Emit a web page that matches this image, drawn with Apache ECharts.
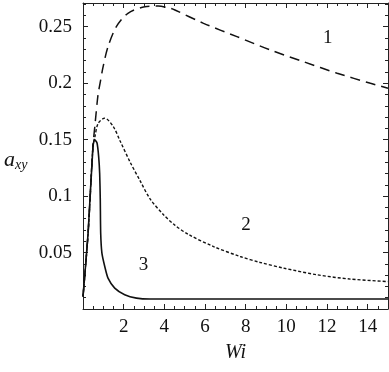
<!DOCTYPE html>
<html>
<head>
<meta charset="utf-8">
<script src="https://cdn.jsdelivr.net/npm/echarts@6/dist/echarts.min.js"></script>
<style>
  html, body { margin: 0; padding: 0; background: #fff; }
  #chart { width: 389px; height: 372px; }
</style>
</head>
<body>
<div id="chart"></div>
<script>
// curve 1 (dashed), curve 2 (dotted), curve 3 (solid) : [Wi, a_xy]
var curve1 = [
  [0, 0.011], [0.25, 0.067], [0.49, 0.144], [0.6, 0.165], [0.74, 0.19], [0.84, 0.2],
  [0.99, 0.2146], [1.23, 0.2323], [1.64, 0.25], [2.21, 0.2619], [3.04, 0.2677],
  [3.69, 0.2683], [4.29, 0.2663], [4.52, 0.2648], [5.93, 0.253], [7.57, 0.2412],
  [9.21, 0.2294], [10.85, 0.219], [12.5, 0.2088], [14.14, 0.1999], [15, 0.1955]
];
var curve2 = [
  [0, 0.011], [0.25, 0.067], [0.49, 0.144], [0.59, 0.153], [0.75, 0.1645],
  [1.07, 0.169], [1.49, 0.1615], [1.82, 0.149], [2.32, 0.13], [2.81, 0.1135],
  [3.3, 0.0975], [3.96, 0.0835], [4.5, 0.0745], [5.19, 0.066], [6.42, 0.0553],
  [7.73, 0.0465], [8.72, 0.0412], [9.87, 0.0362], [11.51, 0.0303], [13.15, 0.0265],
  [15, 0.0243]
];
var curve3 = [
  [0, 0.011], [0.25, 0.067], [0.49, 0.144], [0.57, 0.15], [0.69, 0.147],
  [0.77, 0.135], [0.82, 0.12], [0.85, 0.0966], [0.87, 0.067], [0.93, 0.0494],
  [1.07, 0.0376], [1.23, 0.0273], [1.56, 0.0185], [2.05, 0.0126], [2.63, 0.0096],
  [3.3, 0.0088], [15, 0.0088]
];
var curveNames = ['1', '2', '3'];
var curveNameX = [12.04, 8.02, 2.97];
var curveNameY = [0.2397, 0.0745, 0.0387];

var serif = '"Liberation Serif", "DejaVu Serif", serif';

var chart = echarts.init(document.getElementById('chart'));

function frameAxis(pos, showLabel) {
  return {
    position: pos,
    axisLine: { show: true, onZero: false, lineStyle: { color: '#222', width: 1 } },
    axisTick: { show: true, inside: true, length: 5, lineStyle: { color: '#222' } },
    minorTick: { show: true, length: 3, lineStyle: { color: '#222' } },
    splitLine: { show: false },
    axisLabel: { show: showLabel }
  };
}

var xBottom = Object.assign(frameAxis('bottom', true), {
  type: 'value', min: 0, max: 15, interval: 2,
  name: 'Wi', nameLocation: 'middle', nameGap: 34,
  nameTextStyle: { fontFamily: serif, fontStyle: 'italic', fontSize: 20, color: '#111' }
});
xBottom.minorTick.splitNumber = 4;
xBottom.axisLabel = {
  show: true, margin: 9, fontFamily: serif, fontSize: 19, color: '#111',
  showMinLabel: false, showMaxLabel: false
};
var xTop = Object.assign(frameAxis('top', false), { type: 'value', min: 0, max: 15, interval: 2 });
xTop.minorTick.splitNumber = 4;

var yLeft = Object.assign(frameAxis('left', true), { type: 'value', min: 0, max: 0.271, interval: 0.05 });
yLeft.minorTick.splitNumber = 5;
yLeft.axisLabel = {
  show: true, margin: 11, fontFamily: serif, fontSize: 19, color: '#111',
  showMinLabel: false, showMaxLabel: false
};
var yRight = Object.assign(frameAxis('right', false), { type: 'value', min: 0, max: 0.271, interval: 0.05 });
yRight.minorTick.splitNumber = 5;

var option = {
  animation: false,
  grid: { left: 83, right: 1, top: 3, bottom: 63 },
  xAxis: [xBottom, xTop],
  yAxis: [yLeft, yRight],
  graphic: [
    { type: 'text', left: 4, top: 149,
      style: { text: 'a', fontFamily: serif, fontStyle: 'italic', fontSize: 22, fill: '#111' } },
    { type: 'text', left: 15, top: 158,
      style: { text: 'xy', fontFamily: serif, fontStyle: 'italic', fontSize: 14, fill: '#111' } }
  ],
  series: [
    { type: 'line', data: curve1, showSymbol: false, smooth: 0.3,
      lineStyle: { color: '#111', width: 1.5, type: [10, 6] } },
    { type: 'line', data: curve2, showSymbol: false, smooth: 0.3,
      lineStyle: { color: '#111', width: 1.4, type: [3, 2] } },
    { type: 'line', data: curve3, showSymbol: false, smooth: 0.2,
      lineStyle: { color: '#111', width: 1.6 } },
    { type: 'scatter', symbolSize: 0, itemStyle: { color: '#111', opacity: 1 },
      data: curveNames.map(function (n, i) { return { name: n, value: [curveNameX[i], curveNameY[i]] }; }),
      label: { show: true, position: 'inside', formatter: '{b}', opacity: 1,
        fontFamily: serif, fontSize: 19, color: '#111', textBorderWidth: 0 } }
  ]
};
chart.setOption(option);
</script>
</body>
</html>
